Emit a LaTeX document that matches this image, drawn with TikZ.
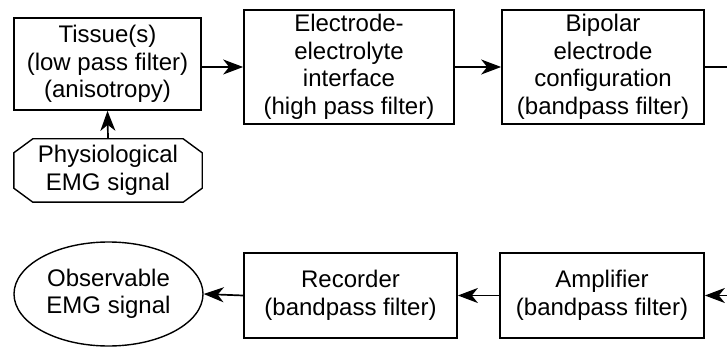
\documentclass[tikz,border=0pt]{standalone}
\usepackage{fontspec}
\setmainfont{Liberation Sans}
\usetikzlibrary{arrows.meta,shapes.geometric,calc}

\tikzset{
  every node/.style={font=\fontsize{24}{27.5}\selectfont, align=center, inner sep=0pt},
  blockbox/.style={draw, line width=1.7pt, rectangle},
  ovalbox/.style={draw, line width=1.4pt, ellipse},
  outline/.style={line width=1.4pt, line join=miter},
  tipshape/.tip={Stealth[length=20pt, width=15pt, inset=6pt]},
  arr/.style={line width=1.7pt, -tipshape},
  plain/.style={line width=1.7pt}
}

\begin{document}
\begin{tikzpicture}[x=1pt, y=-1pt]
  \useasboundingbox (0,0) rectangle (727,347);

  % top row
  \node[blockbox, minimum width=187pt, minimum height=92pt] (tissue) at (107.5,64)
    {Tissue(s)\\(low pass filter)\\(anisotropy)};
  \node[blockbox, minimum width=210pt, minimum height=114pt] (interface) at (349,67)
    {Electrode-\\electrolyte\\interface\\(high pass filter)};
  \node[blockbox, minimum width=202pt, minimum height=114pt] (bipolar) at (603,67)
    {Bipolar\\electrode\\configuration\\(bandpass filter)};

  % octagonal source block, outline traced from the node's corners
  \node[minimum width=188pt, minimum height=63pt] (source) at (108,170.5)
    {Physiological\\EMG signal};
  \draw[outline]
    ($(source.north west)+(19,0)$) -- ($(source.north east)+(-19,0)$)
    -- ($(source.north east)+(0,14)$) -- ($(source.south east)+(0,-14)$)
    -- ($(source.south east)+(-19,0)$) -- ($(source.south west)+(19,0)$)
    -- ($(source.south west)+(0,-14)$) -- ($(source.north west)+(0,14)$)
    -- cycle;

  % bottom row
  \node[ovalbox, minimum width=189pt, minimum height=104pt] (observed) at (108.5,294)
    {Observable\\EMG signal};
  \node[blockbox, minimum width=213pt, minimum height=85pt] (recorder) at (350.5,295.5)
    {Recorder\\(bandpass filter)};
  \node[blockbox, minimum width=204pt, minimum height=85pt] (amplifier) at (602,295.5)
    {Amplifier\\(bandpass filter)};

  % loose ends running off the right edge
  \coordinate (outTop) at (727,67);
  \coordinate (inBottom) at (727,295.5);

  % connectors
  \draw[arr] (source.north) -- (tissue.south);
  \draw[arr] (tissue.east |- interface.west) -- (interface.west);
  \draw[arr] (interface.east) -- (bipolar.west);
  \draw[plain] (bipolar.east) -- (outTop);
  \draw[arr] (inBottom) -- (amplifier.east);
  \draw[arr] (amplifier.west) -- (recorder.east);
  \draw[arr] (recorder.west) -- (observed.east);
\end{tikzpicture}
\end{document}
